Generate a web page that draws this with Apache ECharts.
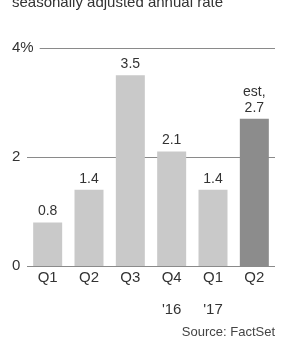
<!DOCTYPE html>
<html>
<head>
<meta charset="utf-8">
<script src="https://cdn.jsdelivr.net/npm/echarts@6/dist/echarts.min.js"></script>
<style>
  html, body { margin: 0; padding: 0; background: #fff; }
  #chart { width: 281px; height: 343px; }
</style>
</head>
<body>
<div id="chart"></div>
<script>
// 季度与年份
var quarters = ['Q1', 'Q2', 'Q3', 'Q4', 'Q1', 'Q2'];
var years = ['', '', '', "'16", "'17", ''];
var growth = [0.8, 1.4, 3.5, 2.1, 1.4, 2.7];
var valueLabels = ['0.8', '1.4', '3.5', '2.1', '1.4', 'est,\n2.7'];
var yTicks = ['0', '2', '4%'];

var font = '"Liberation Sans", Arial, sans-serif';
var myChart = echarts.init(document.getElementById('chart'));

var barData = growth.map(function (v, i) {
  return {
    value: v,
    itemStyle: { color: i === growth.length - 1 ? '#8c8c8c' : '#c9c9c9' },
    label: { formatter: valueLabels[i] }
  };
});

var option = {
  animation: false,
  textStyle: { fontFamily: font },
  grid: { left: 27, right: 6, top: 48, bottom: 77 },
  graphic: [
    {
      type: 'text', left: 12, top: -5,
      style: { text: 'seasonally adjusted annual rate', fill: '#333', font: '15px ' + font }
    },
    {
      type: 'text', right: 6, top: 326,
      style: { text: 'Source: FactSet', fill: '#444', font: '13px ' + font }
    }
  ],
  xAxis: {
    type: 'category',
    data: quarters,
    axisLine: { show: false },
    axisTick: { show: false },
    axisLabel: {
      margin: 4,
      color: '#333',
      fontSize: 15,
      lineHeight: 16,
      formatter: function (val, idx) {
        return val + '\n\n' + (years[idx] || ' ');
      }
    }
  },
  yAxis: {
    type: 'value',
    min: 0,
    max: 4,
    interval: 2,
    axisLine: { show: false },
    axisTick: { show: false },
    splitLine: { lineStyle: { color: '#8a8a8a', width: 1 } },
    axisLabel: {
      align: 'left',
      margin: 15,
      color: '#333',
      fontSize: 15,
      backgroundColor: '#fff',
      padding: [2, 6, 2, 0],
      formatter: function (v) { return yTicks[v / 2]; }
    }
  },
  series: [{
    type: 'bar',
    data: barData,
    barWidth: 29,
    label: {
      show: true,
      position: 'top',
      distance: 3,
      color: '#333',
      fontSize: 14,
      lineHeight: 16
    }
  }]
};

myChart.setOption(option);
</script>
</body>
</html>
